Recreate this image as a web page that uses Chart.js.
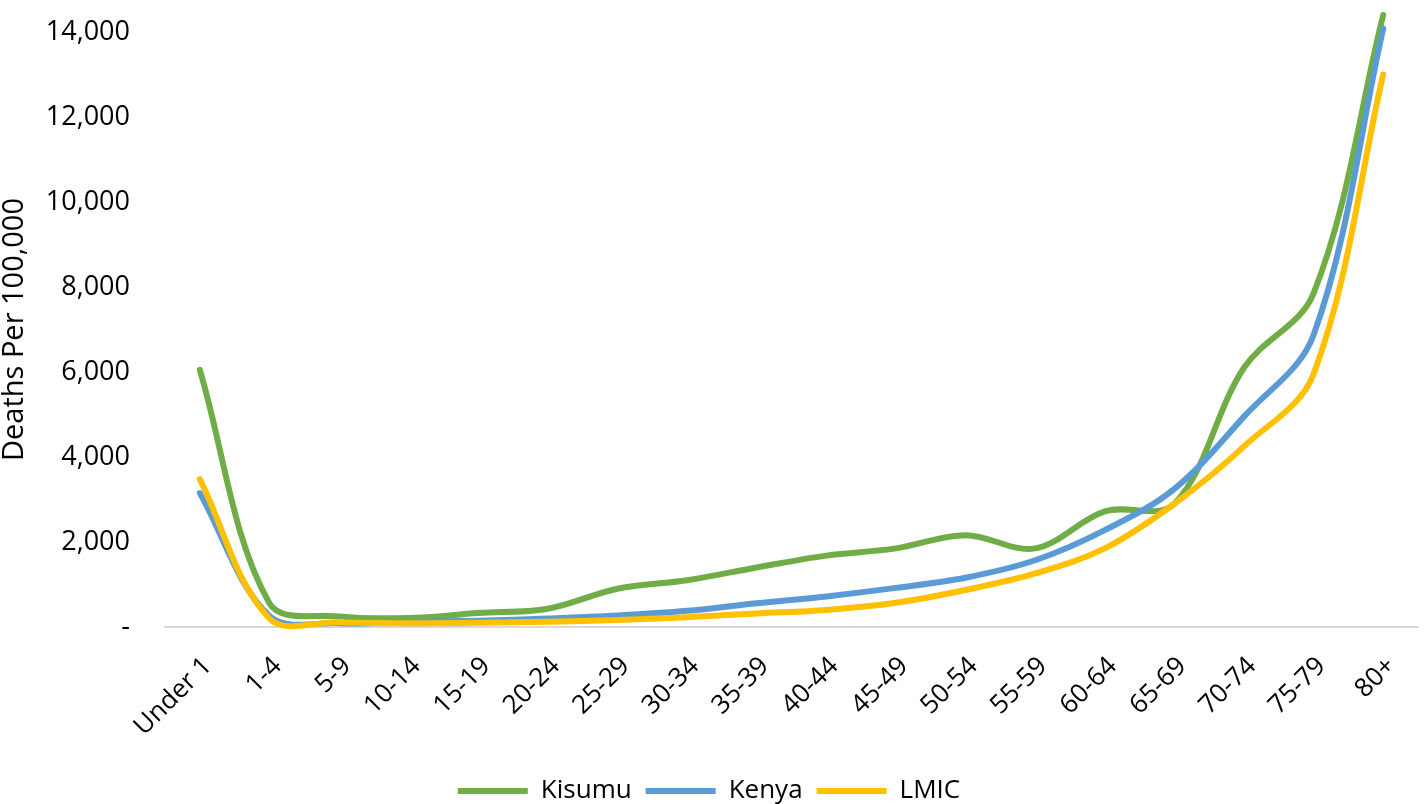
<!DOCTYPE html>
<html>
<head>
<meta charset="utf-8">
<script src="https://cdn.jsdelivr.net/npm/chart.js@4.4.1/dist/chart.umd.min.js"></script>
<style>
  html, body { margin: 0; padding: 0; background: #fff; }
  #wrap { width: 1424px; height: 804px; }
</style>
</head>
<body>
<div id="wrap"><canvas id="myChart" width="1424" height="804"></canvas></div>
<script>
// age groups
var ageGroups = ['Under 1', '1-4', '5-9', '10-14', '15-19', '20-24', '25-29', '30-34', '35-39',
    '40-44', '45-49', '50-54', '55-59', '60-64', '65-69', '70-74', '75-79', '80+'];

// deaths per 100,000
var kisumu = [6050, 560, 250, 210, 330, 430, 900, 1100, 1400, 1680, 1850, 2160, 1850, 2720, 2900, 6100, 7850, 14400];
var kenya = [3150, 260, 90, 120, 150, 200, 270, 380, 560, 720, 920, 1160, 1570, 2280, 3250, 4950, 6870, 14080];
var lmic = [3480, 200, 110, 90, 100, 125, 165, 230, 320, 400, 570, 870, 1260, 1850, 2900, 4250, 5950, 13000];

var yTicks = [0, 2000, 4000, 6000, 8000, 10000, 12000, 14000];

var fontFamily = "'Open Sans', 'Noto Sans', sans-serif";
var bottomPad = -10;

function lineSet(label, data, color, order) {
    return {
        label: label,
        data: data,
        borderColor: color,
        backgroundColor: color,
        borderWidth: 6,
        borderCapStyle: 'round',
        borderJoinStyle: 'round',
        pointRadius: 0,
        pointHoverRadius: 0,
        tension: 0.35,
        fill: false,
        clip: false,
        order: order
    };
}

var ctx = document.getElementById('myChart').getContext('2d');
var myChart = new Chart(ctx, {
    type: 'line',
    data: {
        labels: ageGroups,
        datasets: [
            lineSet('Kisumu', kisumu, '#70AD47', 3),
            lineSet('Kenya', kenya, '#5B9BD5', 2),
            lineSet('LMIC', lmic, '#FFC000', 1)
        ]
    },
    options: {
        responsive: false,
        animation: false,
        layout: { padding: { top: 32, right: 6, left: 0, bottom: bottomPad } },
        elements: { line: { capBezierPoints: false } },
        plugins: {
            tooltip: { enabled: false },
            legend: {
                position: 'bottom',
                labels: {
                    usePointStyle: true,
                    pointStyle: 'line',
                    pointStyleWidth: 70,
                    padding: 14,
                    color: '#000',
                    font: { family: fontFamily, size: 26, lineHeight: 0.8 },
                    sort: function (a, b) { return a.datasetIndex - b.datasetIndex; }
                }
            }
        },
        scales: {
            x: {
                offset: true,
                grid: { display: false, drawTicks: false },
                border: { display: true, color: '#d9d9d9', width: 2 },
                ticks: {
                    color: '#000',
                    font: { family: fontFamily, size: 26 },
                    maxRotation: 45,
                    minRotation: 45,
                    autoSkip: false,
                    padding: 24,
                    labelOffset: 8
                },
                afterFit: function (scale) {
                    var legendH = scale.chart.legend ? scale.chart.legend.height : 44;
                    scale.height = 804 - bottomPad - legendH - 627;
                    scale.paddingLeft = 0;
                    scale.paddingRight = 0;
                }
            },
            y: {
                min: 0,
                max: 14000,
                afterBuildTicks: function (scale) {
                    scale.ticks = yTicks.map(function (v) { return { value: v }; });
                },
                grid: { display: false, drawTicks: false },
                border: { display: false },
                ticks: {
                    color: '#000',
                    font: { family: fontFamily, size: 27 },
                    padding: 35,
                    callback: function (value) {
                        return value === 0 ? '-' : value.toLocaleString('en-US');
                    }
                },
                title: {
                    display: true,
                    text: 'Deaths Per 100,000',
                    color: '#000',
                    font: { family: fontFamily, size: 29, lineHeight: 1 },
                    padding: { top: 0, bottom: 0 }
                },
                afterFit: function (scale) {
                    scale.width = 165;
                    scale.paddingTop = 0;
                    scale.paddingBottom = 0;
                }
            }
        }
    }
});
</script>
</body>
</html>
